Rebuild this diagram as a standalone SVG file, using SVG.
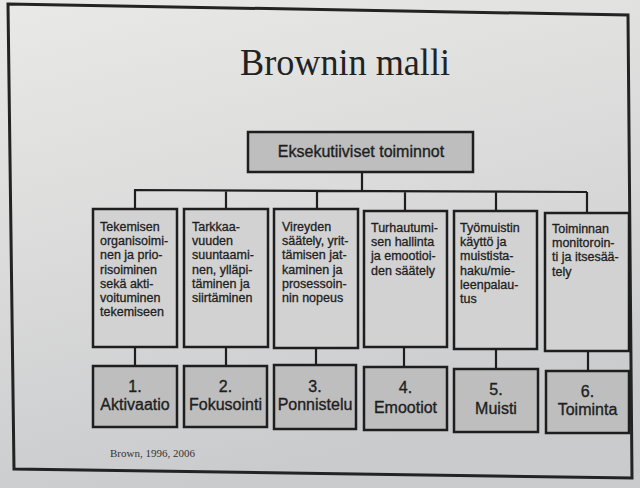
<svg xmlns="http://www.w3.org/2000/svg" width="640" height="488" viewBox="0 0 640 488">
<defs>
<linearGradient id="bg" x1="0" y1="0" x2="0.3" y2="1">
<stop offset="0" stop-color="#e9e9e7"/>
<stop offset="0.5" stop-color="#dbdbdb"/>
<stop offset="1" stop-color="#cacbcd"/>
</linearGradient>
<style>
.frame{fill:none;stroke:#232323;stroke-width:3}
.box{fill:#d2d2d2;stroke:#1e1e1e;stroke-width:2.5}
.dark{fill:#bebebe;stroke:#1e1e1e;stroke-width:2.5}
.con{stroke:#1e1e1e;stroke-width:2.2;fill:none}
.t{font-family:"Liberation Sans",Arial,sans-serif;font-size:12.5px;fill:#1e1e1e;stroke:#1e1e1e;stroke-width:0.3}
.b{font-family:"Liberation Sans",Arial,sans-serif;font-size:16px;fill:#1e1e1e;stroke:#1e1e1e;stroke-width:0.35;text-anchor:middle}
</style>
</defs>
<rect x="0" y="0" width="640" height="488" fill="url(#bg)"/>
<path class="frame" d="M8,4 L628,15 L632,478 L14,469 Z"/>
<text x="345" y="75" text-anchor="middle" font-family="'Liberation Serif','Times New Roman',serif" font-size="38" fill="#222" textLength="210" lengthAdjust="spacingAndGlyphs">Brownin malli</text>
<text x="110" y="457" font-family="'Liberation Serif','Times New Roman',serif" font-size="11" fill="#333">Brown, 1996, 2006</text>

<g id="connectors">
<path class="con" d="M362,172 V190 M134,190 L587,192 M135,190 V209 M226,190 V209 M317,191 V209 M405,191 V211 M496,192 V211 M587,192 V213"/>
<path class="con" d="M135,347 V366 M226,347 V366 M316,348 V365 M404,347 V367 M496,349 V369 M588,351 V371"/>
</g>

<g id="top">
<rect class="dark" x="248" y="132" width="225" height="40"/>
<text class="b" x="361" y="157">Eksekutiiviset toiminnot</text>
</g>

<g id="f1">
<rect class="box" x="93" y="209" width="84" height="138"/>
<text class="t" x="100" y="231"><tspan x="100">Tekemisen</tspan><tspan x="100" dy="14.2">organisoimi-</tspan><tspan x="100" dy="14.2">nen ja prio-</tspan><tspan x="100" dy="14.2">risoiminen</tspan><tspan x="100" dy="14.2">sekä akti-</tspan><tspan x="100" dy="14.2">voituminen</tspan><tspan x="100" dy="14.2">tekemiseen</tspan></text>
</g>
<g id="f2">
<rect class="box" x="184" y="209" width="84" height="138"/>
<text class="t" x="192" y="231"><tspan x="192">Tarkkaa-</tspan><tspan x="192" dy="14.2">vuuden</tspan><tspan x="192" dy="14.2">suuntaami-</tspan><tspan x="192" dy="14.2">nen, ylläpi-</tspan><tspan x="192" dy="14.2">täminen ja</tspan><tspan x="192" dy="14.2">siirtäminen</tspan></text>
</g>
<g id="f3">
<rect class="box" x="274" y="209" width="84" height="139"/>
<text class="t" x="282" y="231"><tspan x="282">Vireyden</tspan><tspan x="282" dy="14.2">säätely, yrit-</tspan><tspan x="282" dy="14.2">tämisen jat-</tspan><tspan x="282" dy="14.2">kaminen ja</tspan><tspan x="282" dy="14.2">prosessoin-</tspan><tspan x="282" dy="14.2">nin nopeus</tspan></text>
</g>
<g id="f4">
<rect class="box" x="364" y="211" width="83" height="136"/>
<text class="t" x="371" y="232"><tspan x="371">Turhautumi-</tspan><tspan x="371" dy="14.2">sen hallinta</tspan><tspan x="371" dy="14.2">ja emootioi-</tspan><tspan x="371" dy="14.2">den säätely</tspan></text>
</g>
<g id="f5">
<rect class="box" x="454" y="211" width="83" height="138"/>
<text class="t" x="460" y="232"><tspan x="460">Työmuistin</tspan><tspan x="460" dy="14.2">käyttö ja</tspan><tspan x="460" dy="14.2">muistista-</tspan><tspan x="460" dy="14.2">haku/mie-</tspan><tspan x="460" dy="14.2">leenpalau-</tspan><tspan x="460" dy="14.2">tus</tspan></text>
</g>
<g id="f6">
<rect class="box" x="545" y="213" width="84" height="138"/>
<text class="t" x="552" y="233"><tspan x="552">Toiminnan</tspan><tspan x="552" dy="14.2">monitoroin-</tspan><tspan x="552" dy="14.2">ti ja itsesää-</tspan><tspan x="552" dy="14.2">tely</tspan></text>
</g>

<g id="n1">
<rect class="dark" x="93" y="366" width="84" height="61"/>
<text class="b" x="135" y="392">1.</text><text class="b" x="135" y="410">Aktivaatio</text>
</g>
<g id="n2">
<rect class="dark" x="184" y="366" width="83" height="61"/>
<text class="b" x="225.5" y="392">2.</text><text class="b" x="225.5" y="410">Fokusointi</text>
</g>
<g id="n3">
<rect class="dark" x="274" y="365" width="82" height="64"/>
<text class="b" x="315" y="392">3.</text><text class="b" x="315" y="410">Ponnistelu</text>
</g>
<g id="n4">
<rect class="dark" x="364" y="367" width="83" height="63"/>
<text class="b" x="405.5" y="393">4.</text><text class="b" x="405.5" y="413">Emootiot</text>
</g>
<g id="n5">
<rect class="dark" x="454" y="369" width="84" height="63"/>
<text class="b" x="496" y="395">5.</text><text class="b" x="496" y="414">Muisti</text>
</g>
<g id="n6">
<rect class="dark" x="546" y="371" width="83" height="62"/>
<text class="b" x="587.5" y="397">6.</text><text class="b" x="587.5" y="415">Toiminta</text>
</g>
</svg>
